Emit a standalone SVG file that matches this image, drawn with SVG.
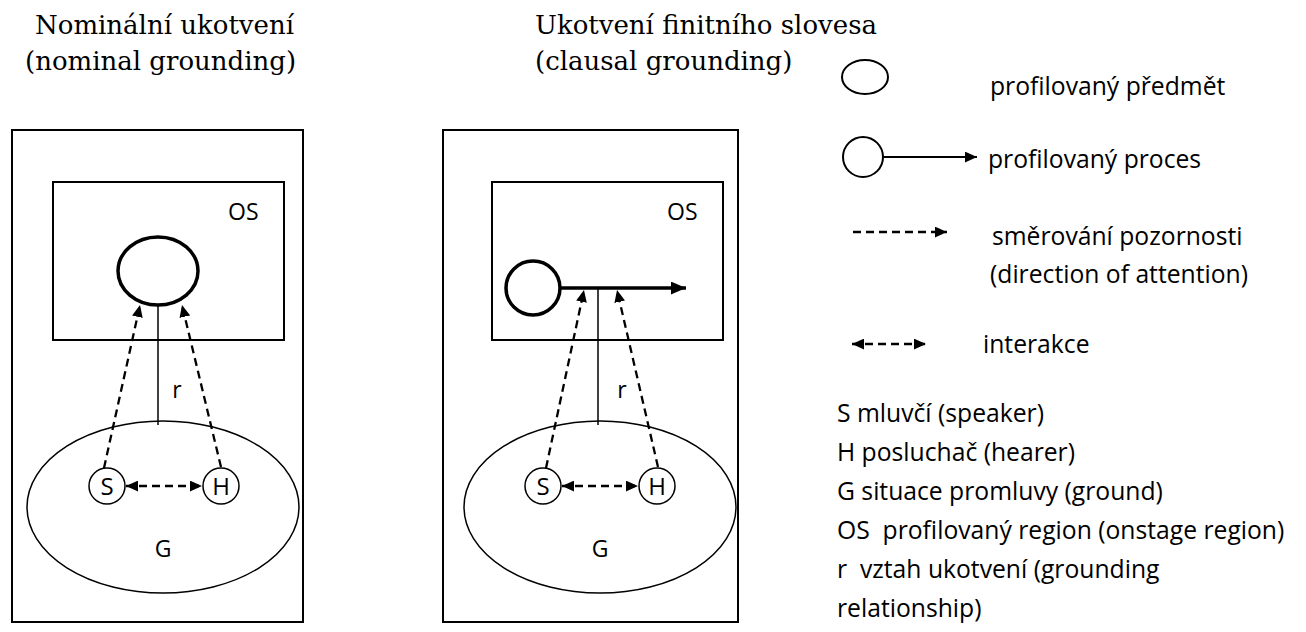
<svg xmlns="http://www.w3.org/2000/svg" width="1306" height="632" viewBox="0 0 1306 632">
<style>
.title{font-family:"DejaVu Serif","Liberation Serif",serif;font-size:26px;fill:#000}
.lbl{font-family:"Open Sans","Noto Sans","Liberation Sans",sans-serif;font-size:23px;fill:#000}
.sh{font-family:"Open Sans","Noto Sans","Liberation Sans",sans-serif;font-size:24px;fill:#000}
.leg{font-family:"Open Sans","Noto Sans","Liberation Sans",sans-serif;font-size:24.7px;fill:#000}
.box{fill:none;stroke:#000;stroke-width:2}
.ell{fill:#fff;stroke:#000;stroke-width:1.5}
.thick{fill:none;stroke:#000;stroke-width:3.5}
.thin{fill:none;stroke:#000;stroke-width:2}
.solid{stroke:#000;stroke-width:1.5;fill:none}
.dash{stroke:#000;stroke-width:2.3;stroke-dasharray:8 5;fill:none}
.proc{stroke:#000;stroke-width:3.5;fill:none}
.proc2{stroke:#000;stroke-width:2;fill:none}
</style>
<defs>
<marker id="ah" viewBox="0 0 10 9" refX="10" refY="4.5" markerWidth="12" markerHeight="11" markerUnits="userSpaceOnUse" orient="auto-start-reverse">
<path d="M0,0 L10,4.5 L0,9 z" fill="#000"/>
</marker>
<marker id="ahBig" viewBox="0 0 14 12" refX="14" refY="6" markerWidth="15" markerHeight="13" markerUnits="userSpaceOnUse" orient="auto">
<path d="M0,0 L14,6 L0,12 z" fill="#000"/>
</marker>
</defs>

<g id="titles">
<text class="title" x="35" y="34">Nominální ukotvení</text>
<text class="title" x="25" y="70">(nominal grounding)</text>
<text class="title" x="535" y="34">Ukotvení finitního slovesa</text>
<text class="title" x="535" y="70">(clausal grounding)</text>
</g>

<g id="nominal">
<rect class="box" x="12" y="130" width="291" height="492"/>
<rect class="box" x="53" y="182" width="231" height="158"/>
<text class="lbl" x="228" y="220">OS</text>
<ellipse class="ell" cx="163" cy="507" rx="136" ry="86"/>
<text class="lbl" x="163" y="557" text-anchor="middle">G</text>
<text class="lbl" x="177" y="398" text-anchor="middle">r</text>
</g>
<g id="nominal-thing">
<ellipse class="thick" cx="158" cy="271" rx="40" ry="34"/>
</g>
<g id="nominal-S">
<circle class="ell" cx="107" cy="486" r="18"/>
<text class="sh" x="107" y="495" text-anchor="middle">S</text>
</g>
<g id="nominal-H">
<circle class="ell" cx="221" cy="486" r="18"/>
<text class="sh" x="221" y="495" text-anchor="middle">H</text>
</g>

<g id="clausal">
<rect class="box" x="443" y="130" width="295" height="492"/>
<rect class="box" x="492" y="182" width="231" height="158"/>
<text class="lbl" x="667" y="220">OS</text>
<ellipse class="ell" cx="600" cy="507" rx="136" ry="86"/>
<text class="lbl" x="600" y="557" text-anchor="middle">G</text>
<text class="lbl" x="622" y="398" text-anchor="middle">r</text>
</g>
<g id="clausal-process">
<circle class="thick" cx="533" cy="288" r="27"/>
<line class="proc" x1="560" y1="288" x2="686" y2="288" marker-end="url(#ahBig)"/>
</g>
<g id="clausal-S">
<circle class="ell" cx="543" cy="486" r="18"/>
<text class="sh" x="543" y="495" text-anchor="middle">S</text>
</g>
<g id="clausal-H">
<circle class="ell" cx="657" cy="486" r="18"/>
<text class="sh" x="657" y="495" text-anchor="middle">H</text>
</g>

<g id="connectors">
<line class="solid" x1="158" y1="305" x2="158" y2="425"/>
<line class="dash" x1="104" y1="468" x2="140" y2="305" marker-end="url(#ah)"/>
<line class="dash" x1="221" y1="467" x2="182" y2="305" marker-end="url(#ah)"/>
<line class="dash" x1="126" y1="486" x2="202" y2="486" marker-start="url(#ah)" marker-end="url(#ah)"/>
<line class="solid" x1="598" y1="289" x2="598" y2="425"/>
<line class="dash" x1="546" y1="468" x2="584" y2="290" marker-end="url(#ah)"/>
<line class="dash" x1="658" y1="467" x2="617" y2="290" marker-end="url(#ah)"/>
<line class="dash" x1="562" y1="486" x2="638" y2="486" marker-start="url(#ah)" marker-end="url(#ah)"/>
</g>

<g id="legend">
<ellipse class="thin" cx="865" cy="77" rx="23" ry="17"/>
<text class="leg" x="990" y="95">profilovaný předmět</text>
<circle class="thin" cx="863" cy="157" r="20"/>
<line class="proc2" x1="883" y1="157" x2="977" y2="157" marker-end="url(#ah)"/>
<text class="leg" x="988" y="168">profilovaný proces</text>
<line class="dash" x1="853" y1="232" x2="947" y2="232" marker-end="url(#ah)"/>
<text class="leg" x="992" y="245">směrování pozornosti</text>
<text class="leg" x="990" y="283">(direction of attention)</text>
<line class="dash" x1="852" y1="344" x2="926" y2="344" marker-start="url(#ah)" marker-end="url(#ah)"/>
<text class="leg" x="983" y="353">interakce</text>
<text class="leg" x="837" y="422">S mluvčí (speaker)</text>
<text class="leg" x="837" y="461">H posluchač (hearer)</text>
<text class="leg" x="837" y="500">G situace promluvy (ground)</text>
<text class="leg" x="837" y="539" xml:space="preserve">OS  profilovaný region (onstage region)</text>
<text class="leg" x="837" y="578" xml:space="preserve">r  vztah ukotvení (grounding</text>
<text class="leg" x="837" y="617">relationship)</text>
</g>
</svg>
